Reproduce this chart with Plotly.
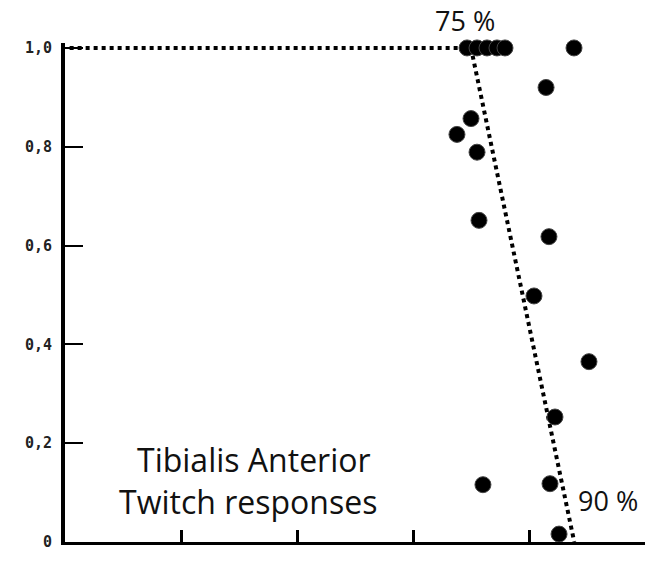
import plotly.graph_objects as go

# Data (x in axis units 0..5, y = relative response 0..1)
pts_x = [3.466, 3.552, 3.638, 3.724, 3.793, 4.388, 4.147, 3.500, 3.379, 3.552,
         3.569, 4.172, 4.043, 4.517, 4.224, 3.603, 4.181, 4.259]
pts_y = [1.0, 1.0, 1.0, 1.0, 1.0, 1.0, 0.920, 0.857, 0.825, 0.789,
         0.651, 0.618, 0.498, 0.365, 0.253, 0.116, 0.118, 0.016]

plateau_x = [0.04, 3.50]
plateau_y = [1.0, 1.0]
slope_x = [3.50, 4.39]
slope_y = [1.0, 0.0]

y_tickvals = [0, 0.2, 0.4, 0.6, 0.8, 1.0]
y_ticktext = ["0", "0,2", "0,4", "0,6", "0,8", "1,0"]
x_tickvals = [1, 2, 3, 4, 5]

fig = go.Figure()
fig.add_trace(go.Scatter(x=plateau_x, y=plateau_y, mode="lines",
                         line=dict(color="black", width=4, dash="4px,4px"),
                         cliponaxis=False, hoverinfo="skip"))
fig.add_trace(go.Scatter(x=slope_x, y=slope_y, mode="lines",
                         line=dict(color="black", width=4, dash="4px,4px"),
                         cliponaxis=False, hoverinfo="skip"))
fig.add_trace(go.Scatter(x=pts_x, y=pts_y, mode="markers",
                         marker=dict(color="black", size=16,
                                     line=dict(color="#444", width=1)),
                         cliponaxis=False))

txt_font = dict(family="Open Sans", size=32, color="#111")
pct_font = dict(family="Open Sans", size=27, color="#111")
fig.add_annotation(x=3.45, y=1.0, yshift=27, text="75 %", showarrow=False,
                   font=pct_font, borderpad=0, xref="x", yref="y")
fig.add_annotation(x=1.63, y=0.166, text="Tibialis Anterior", showarrow=False,
                   font=txt_font, borderpad=0, xref="x", yref="y")
fig.add_annotation(x=1.58, y=0.082, text="Twitch responses", showarrow=False,
                   font=txt_font, borderpad=0, xref="x", yref="y")
fig.add_annotation(x=4.68, y=0.083, text="90 %", showarrow=False,
                   font=pct_font, borderpad=0, xref="x", yref="y")

fig.update_layout(
    width=660, height=563,
    margin=dict(l=65, r=15, t=43, b=13),
    paper_bgcolor="white", plot_bgcolor="white",
    showlegend=False,
    xaxis=dict(range=[0, 5], showgrid=False, zeroline=False,
               showline=True, linecolor="black", linewidth=3,
               tickvals=x_tickvals, ticks="inside", ticklen=12,
               tickwidth=3, tickcolor="black", showticklabels=False),
    yaxis=dict(range=[0, 1.01], showgrid=False, zeroline=False,
               showline=True, linecolor="black", linewidth=4,
               tickvals=y_tickvals, ticktext=y_ticktext,
               ticks="inside", ticklen=18, tickwidth=2, tickcolor="black",
               tickfont=dict(family="DejaVu Sans Mono", size=15,
                             color="#222", weight="bold"),
               ticklabelstandoff=6),
)

fig.write_html("out.html")
